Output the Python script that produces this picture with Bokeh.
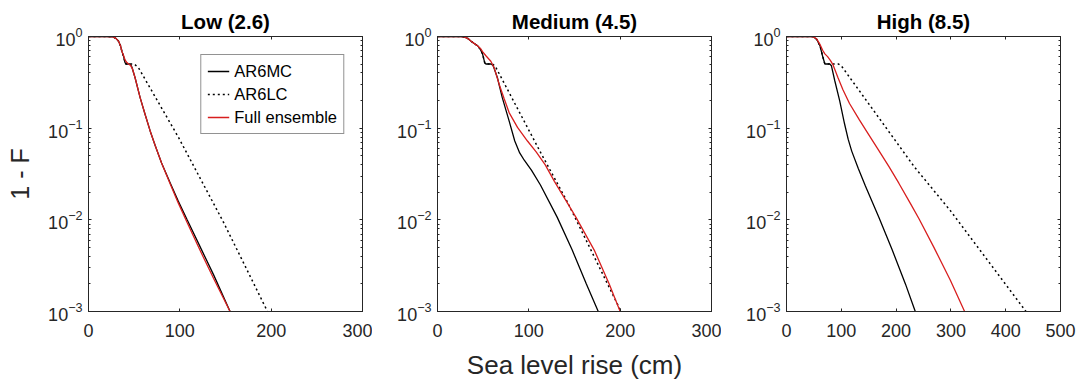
from bokeh.plotting import figure
from bokeh.layouts import row
from bokeh.models import (Range1d, FixedTicker, LinearAxis, LogAxis, Legend,
                          LegendItem)
from bokeh.embed import file_html
from bokeh.resources import INLINE

FONT = "Liberation Sans"
AX = "#262626"
RED = "#d81e1e"

# ---------------- data ----------------
panel_titles = ["Low (2.6)", "Medium (4.5)", "High (8.5)"]
x_max = [300, 300, 500]
x_ticks = [[0, 100, 200, 300], [0, 100, 200, 300], [0, 100, 200, 300, 400, 500]]
y_ticks = [1e-3, 1e-2, 1e-1, 1.0]
series_names = ["AR6MC", "AR6LC", "Full ensemble"]

# Low (2.6)
low_mc_x = [0, 20, 27, 30, 32.8, 35, 36.5, 38.5, 40, 41, 45.6, 47.4, 51, 56.6, 62, 67.5, 73, 80, 89.6, 98, 108, 122, 137, 155]
low_mc_y = [1, 1, 0.989, 0.955, 0.891, 0.794, 0.692, 0.603, 0.519, 0.501, 0.501, 0.468, 0.355, 0.214, 0.141, 0.0933, 0.0646, 0.0417, 0.0251, 0.0162, 0.0100, 0.00513, 0.00251, 0.0010]
low_lc_x = [0, 20, 27, 30, 32.8, 35, 36.5, 38.5, 40, 41, 50, 54.7, 98.5, 148, 196]
low_lc_y = [1, 1, 0.989, 0.955, 0.891, 0.794, 0.692, 0.603, 0.519, 0.501, 0.501, 0.457, 0.0794, 0.00933, 0.0010]
low_full_x = [0, 20, 27, 30, 32.8, 35, 36.5, 38.5, 40, 42, 44, 46, 48, 51, 56.6, 62, 67.5, 73, 80, 89.6, 98, 108, 122, 137, 155]
low_full_y = [1, 1, 0.989, 0.955, 0.891, 0.794, 0.692, 0.617, 0.556, 0.519, 0.501, 0.484, 0.447, 0.355, 0.214, 0.141, 0.0933, 0.0646, 0.0417, 0.0245, 0.0155, 0.00933, 0.00468, 0.00229, 0.0010]

# Medium (4.5)
med_mc_x = [0, 25, 29, 33, 36.5, 40, 43.8, 47, 49.3, 51.8, 53, 59, 61, 65.6, 71, 78.4, 84.6, 90, 95, 103, 112.7, 131, 147.5, 163, 176]
med_mc_y = [1, 1, 0.989, 0.955, 0.891, 0.841, 0.794, 0.724, 0.646, 0.513, 0.501, 0.501, 0.479, 0.355, 0.214, 0.120, 0.0724, 0.0537, 0.0447, 0.0347, 0.0240, 0.0107, 0.00468, 0.00200, 0.0010]
med_lc_x = [0, 25, 29, 33, 36.5, 40, 43.8, 47, 49.3, 51.8, 53, 60, 63, 113, 142, 201]
med_lc_y = [1, 1, 0.989, 0.955, 0.891, 0.841, 0.794, 0.724, 0.646, 0.513, 0.501, 0.501, 0.479, 0.0540, 0.0158, 0.0010]
med_full_x = [0, 25, 29, 33, 36.5, 40, 43.8, 47, 49.3, 53, 58.4, 62, 67.5, 73, 78.4, 87.6, 98.5, 108, 118, 128, 140, 151.5, 171.6, 188, 200]
med_full_y = [1, 1, 0.989, 0.955, 0.891, 0.841, 0.794, 0.741, 0.684, 0.617, 0.537, 0.457, 0.302, 0.209, 0.148, 0.102, 0.0724, 0.0550, 0.0398, 0.0263, 0.0166, 0.0107, 0.00468, 0.00200, 0.0010]

# High (8.5)
high_mc_x = [0, 45, 48.7, 55, 61, 65.7, 70, 79, 82, 88, 97, 106, 112.5, 119, 131, 144, 168.5, 193, 217, 235]
high_mc_y = [1, 1, 0.995, 0.933, 0.794, 0.617, 0.501, 0.501, 0.479, 0.331, 0.200, 0.111, 0.0759, 0.0562, 0.0363, 0.0234, 0.0107, 0.00468, 0.00200, 0.0010]
high_lc_x = [0, 45, 48.7, 55, 61, 65.7, 70, 95, 100, 233, 299, 437]
high_lc_y = [1, 1, 0.995, 0.933, 0.794, 0.617, 0.501, 0.501, 0.479, 0.0380, 0.0126, 0.0010]
high_full_x = [0, 45, 48.7, 55, 61, 66, 70, 75, 80, 85, 94, 103, 115, 133, 150, 168, 187, 205, 226, 242, 269, 299, 325]
high_full_y = [1, 1, 0.991, 0.944, 0.822, 0.708, 0.646, 0.603, 0.550, 0.490, 0.355, 0.263, 0.186, 0.123, 0.0851, 0.0575, 0.0380, 0.0251, 0.0151, 0.0102, 0.00501, 0.00219, 0.0010]

panel_data = [
    ((low_mc_x, low_mc_y), (low_lc_x, low_lc_y), (low_full_x, low_full_y)),
    ((med_mc_x, med_mc_y), (med_lc_x, med_lc_y), (med_full_x, med_full_y)),
    ((high_mc_x, high_mc_y), (high_lc_x, high_lc_y), (high_full_x, high_full_y)),
]

minor_y = [k * 10.0 ** e for e in (-3, -2, -1) for k in range(2, 10)]


def style_axis(ax, labels=True):
    ax.axis_line_color = AX
    ax.major_tick_line_color = AX
    ax.minor_tick_line_color = AX
    ax.major_tick_in = 3
    ax.major_tick_out = 0
    ax.minor_tick_in = 2
    ax.minor_tick_out = 0
    ax.major_label_text_font = FONT
    ax.major_label_text_color = AX
    ax.major_label_text_font_size = "18px"
    if not labels:
        ax.major_label_text_font_size = "1px"
        ax.major_label_text_alpha = 0.0
        ax.major_label_standoff = 0


def make_panel(i):
    left = 88 if i == 0 else 65
    right_b = 16 if i == 2 else 10
    p = figure(frame_width=274, frame_height=275,
               x_range=Range1d(0, x_max[i]), y_range=Range1d(1e-3, 1.0),
               y_axis_type="log", output_backend="svg", toolbar_location=None,
               min_border_left=left, min_border_right=right_b,
               min_border_top=36, min_border_bottom=70,
               background_fill_color="white", border_fill_color="white")
    p.xgrid.visible = False
    p.ygrid.visible = False
    p.outline_line_color = AX
    p.outline_line_width = 1

    p.title.text = panel_titles[i]
    p.title.align = "center"
    p.title.text_font = FONT
    p.title.text_font_size = "20.5px"
    p.title.text_font_style = "bold"
    p.title.text_color = "black"
    p.title.standoff = 8

    xa = p.xaxis[0]
    xa.ticker = FixedTicker(ticks=x_ticks[i])
    style_axis(xa)
    xa.minor_tick_line_color = None
    xa.major_label_standoff = 12

    ya = p.yaxis[0]
    ya.ticker = FixedTicker(ticks=y_ticks, minor_ticks=minor_y)
    style_axis(ya)
    ya.major_label_standoff = 6

    if i == 0:
        ya.axis_label = "1 - F"
        ya.axis_label_text_font = FONT
        ya.axis_label_text_font_size = "25px"
        ya.axis_label_text_font_style = "normal"
        ya.axis_label_text_color = AX
        ya.axis_label_standoff = 11
    if i == 1:
        xa.axis_label = "Sea level rise (cm)"
        xa.axis_label_text_font = FONT
        xa.axis_label_text_font_size = "26px"
        xa.axis_label_text_font_style = "normal"
        xa.axis_label_text_color = AX
        xa.axis_label_standoff = 10

    top = LinearAxis(ticker=FixedTicker(ticks=x_ticks[i]))
    style_axis(top, labels=False)
    top.minor_tick_line_color = None
    p.add_layout(top, "above")

    right = LogAxis(ticker=FixedTicker(ticks=y_ticks, minor_ticks=minor_y))
    style_axis(right, labels=False)
    p.add_layout(right, "right")

    (mx, my), (lx, ly), (fx, fy) = panel_data[i]
    r_mc = p.line(x=mx, y=my, line_color="black", line_width=1.3)
    r_lc = p.line(x=lx, y=ly, line_color="black", line_width=1.5, line_dash="2 3")
    r_full = p.line(x=fx, y=fy, line_color=RED, line_width=1.3)

    if i == 0:
        legend = Legend(items=[LegendItem(label=series_names[0], renderers=[r_mc]),
                               LegendItem(label=series_names[1], renderers=[r_lc]),
                               LegendItem(label=series_names[2], renderers=[r_full])],
                        location="top_right", margin=18, padding=6, spacing=3,
                        glyph_width=22, glyph_height=20, label_height=20,
                        label_standoff=5,
                        label_text_font=FONT, label_text_font_size="16.5px",
                        label_text_color="black",
                        border_line_color=AX, border_line_width=1,
                        background_fill_color="white", background_fill_alpha=1.0)
        p.add_layout(legend)
    return p


panels = [make_panel(i) for i in range(3)]
layout = row(*panels)

open("out.html", "w").write(file_html(layout, INLINE))
